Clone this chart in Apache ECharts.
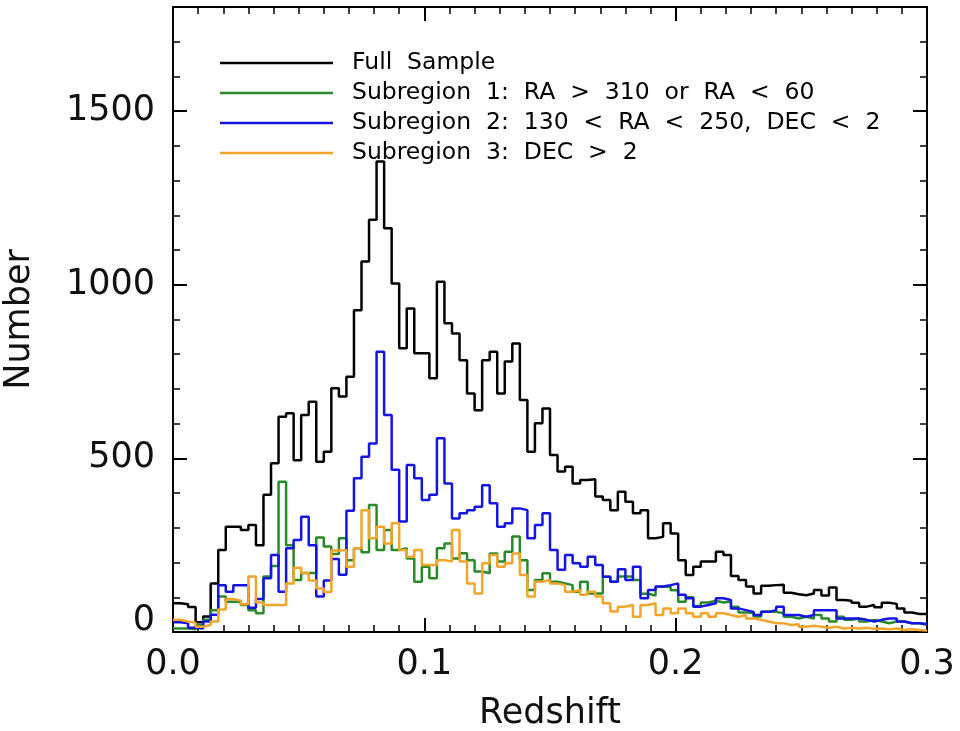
<!DOCTYPE html>
<html>
<head>
<meta charset="utf-8">
<script src="https://cdn.jsdelivr.net/npm/echarts@6/dist/echarts.min.js"></script>
<style>
  html, body { margin: 0; padding: 0; background: #fff; }
  #chart { width: 960px; height: 731px; }
</style>
</head>
<body>
<div id="chart"></div>
<script>
// histogram bins: 100 bins of width 0.003 from z = 0 to 0.3
var binWidth = 0.003;
var seriesNames = ['Full Sample', 'Subregion 1: RA > 310 or RA < 60', 'Subregion 2: 130 < RA < 250, DEC < 2', 'Subregion 3: DEC > 2'];
var xTickLabels = ['0.0', '0.1', '0.2', '0.3'];

var fullSample = [
  83, 80, 72, 28, 45, 140, 236, 303, 303, 294,
  308, 250, 395, 486, 620, 630, 495, 625, 663, 490,
  519, 702, 678, 735, 927, 1067, 1187, 1355, 1163, 1004,
  817, 932, 803, 803, 731, 1009, 889, 860, 783, 687,
  639, 783, 807, 687, 779, 831, 668, 519, 601, 644,
  510, 462, 476, 428, 438, 440, 390, 380, 351, 404,
  375, 342, 351, 270, 274, 313, 284, 207, 164, 188,
  203, 203, 231, 222, 161, 150, 131, 111, 133, 135,
  136, 113, 109, 106, 111, 121, 105, 128, 92, 90,
  84, 73, 78, 71, 84, 81, 68, 56, 52, 52
];
var subregion1 = [
  10, 10, 8, 20, 35, 63, 102, 87, 87, 78,
  63, 54, 160, 190, 433, 250, 150, 170, 170, 272,
  246, 225, 270, 207, 241, 230, 366, 236, 294, 236,
  241, 212, 145, 188, 155, 241, 255, 212, 227, 207,
  174, 169, 226, 203, 231, 275, 207, 121, 150, 169,
  145, 140, 135, 116, 145, 111, 111, 159, 145, 160,
  160, 150, 110, 105, 130, 130, 120, 87, 100, 75,
  85, 90, 85, 88, 73, 56, 55, 45, 58, 58,
  54, 44, 39, 44, 39, 49, 39, 30, 44, 35,
  39, 30, 35, 30, 25, 30, 30, 25, 25, 20
];
var subregion2 = [
  28, 25, 12, 10, 30, 50, 135, 116, 135, 135,
  70, 95, 155, 222, 116, 241, 265, 332, 250, 102,
  148, 210, 165, 349, 443, 505, 543, 807, 625, 467,
  318, 481, 443, 380, 395, 558, 428, 327, 342, 351,
  361, 423, 371, 303, 313, 356, 351, 270, 308, 342,
  236, 179, 222, 198, 188, 217, 193, 159, 145, 181,
  150, 188, 97, 121, 131, 135, 140, 107, 97, 73,
  78, 83, 97, 92, 68, 63, 58, 49, 58, 63,
  73, 49, 49, 44, 49, 63, 63, 63, 39, 39,
  39, 35, 30, 35, 39, 39, 30, 25, 25, 23
];
var subregion3 = [
  35, 30, 27, 15, 20, 30, 65, 95, 90, 80,
  160, 85, 78, 78, 78, 140, 185, 170, 148, 125,
  115, 235, 236, 188, 241, 351, 270, 303, 255, 313,
  236, 217, 236, 193, 193, 207, 203, 294, 203, 140,
  111, 198, 222, 188, 198, 226, 164, 102, 145, 150,
  140, 135, 116, 121, 107, 116, 102, 83, 59, 73,
  78, 44, 78, 83, 49, 68, 54, 68, 54, 44,
  54, 44, 54, 49, 44, 49, 39, 35, 30, 25,
  25, 20, 22, 15, 18, 15, 12, 15, 10, 12,
  10, 12, 9, 10, 8, 10, 6, 8, 6, 4
];

var colors = ['#000000', '#2a8a2a', '#1414e6', '#f2a52a'];
var font = 'DejaVu Sans';

// step line points at the bin left edges, plus the right edge of the last bin
function steps(vals) {
  var pts = vals.map(function(v, i) { return [+(i * binWidth).toFixed(4), v]; });
  pts.push([+(vals.length * binWidth).toFixed(4), vals[vals.length - 1]]);
  return pts;
}

var chart = echarts.init(document.getElementById('chart'), null, { renderer: 'canvas' });

var frame = { onZero: false, lineStyle: { color: '#000', width: 2 } };
var box = { left: 173, right: 33, top: 7, bottom: 99, containLabel: false, outerBoundsMode: 'none' };
var labelStyle = { fontSize: 35, fontFamily: font, color: '#111' };

function xAx(pos, labels) {
  return {
    type: 'value', gridIndex: 0, position: pos, min: 0, max: 0.3, interval: 0.1,
    axisLine: frame,
    axisTick: { inside: true, length: 14, lineStyle: { color: '#000', width: 2 } },
    minorTick: { show: true, splitNumber: 10, length: 7, lineStyle: { color: '#000', width: 1.5 } },
    splitLine: { show: false },
    axisLabel: {
      show: labels, margin: 15, fontSize: 35, fontFamily: font, color: '#111',
      formatter: function(v) { return xTickLabels[Math.round(v * 10)]; }
    },
    name: labels ? 'Redshift' : '',
    nameLocation: 'middle', nameGap: 64,
    nameTextStyle: labelStyle
  };
}

function yMajor(pos, labels) {
  return {
    type: 'value', gridIndex: 0, position: pos, min: 0, max: 1800, interval: 500,
    axisLine: frame,
    axisTick: { inside: true, length: 14, lineStyle: { color: '#000', width: 2 } },
    splitLine: { show: false },
    axisLabel: {
      show: labels, margin: 18, fontSize: 35, fontFamily: font, color: '#111',
      showMaxLabel: false,
      formatter: function(v) { return v === 0 ? '{zero|0}' : String(v); },
      rich: { zero: { fontSize: 35, fontFamily: font, color: '#111', padding: [0, 0, 22, 0] } }
    },
    name: labels ? 'Number' : '',
    nameLocation: 'middle', nameGap: 136,
    nameTextStyle: labelStyle
  };
}

function yMinor(pos) {
  return {
    type: 'value', gridIndex: 1, position: pos, min: 0, max: 1800, interval: 100,
    axisLine: { show: false, onZero: false },
    axisTick: { inside: true, length: 7, lineStyle: { color: '#000', width: 1.5 } },
    splitLine: { show: false },
    axisLabel: { show: false }
  };
}

var data = [fullSample, subregion1, subregion2, subregion3];
var order = [0, 2, 1, 3];
var series = order.map(function(k) {
  return {
    name: seriesNames[k], type: 'line', step: 'end', symbol: 'none',
    xAxisIndex: 0, yAxisIndex: 0,
    data: steps(data[k]),
    lineStyle: { color: colors[k], width: 2.5 },
    itemStyle: { color: colors[k] },
    z: 3 + k
  };
});

chart.setOption({
  animation: false,
  backgroundColor: '#fff',
  grid: [box, box],
  xAxis: [
    xAx('bottom', true),
    xAx('top', false),
    { type: 'value', gridIndex: 1, min: 0, max: 0.3, show: false }
  ],
  yAxis: [yMajor('left', true), yMajor('right', false), yMinor('left'), yMinor('right')],
  legend: {
    data: seriesNames, orient: 'vertical', left: 220, top: 51, padding: 0,
    icon: 'rect', itemWidth: 113, itemHeight: 2.5, itemGap: 6,
    formatter: function(n) { return n.replace(/ /g, '  '); },
    textStyle: { fontSize: 23.5, lineHeight: 24, fontFamily: font, color: '#000', padding: [0, 0, 0, 14] }
  },
  series: series
});
</script>
</body>
</html>
